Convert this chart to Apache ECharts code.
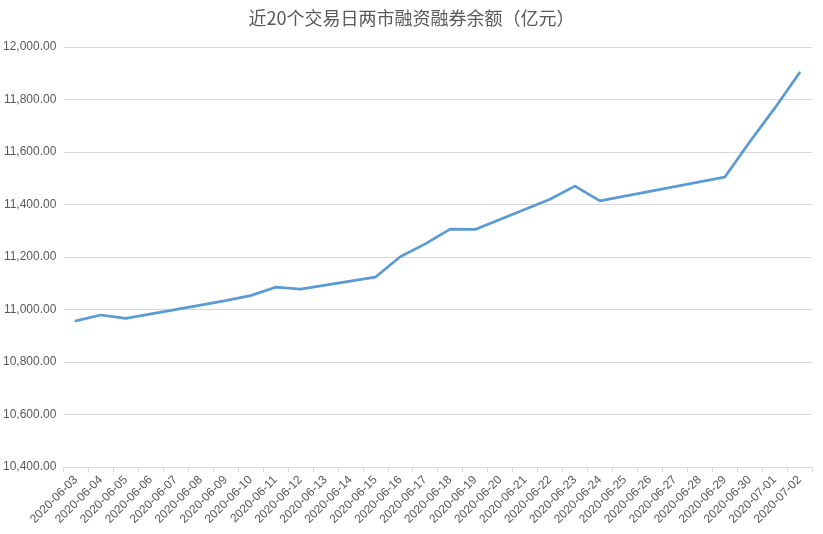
<!DOCTYPE html>
<html>
<head>
<meta charset="utf-8">
<script src="https://cdn.jsdelivr.net/npm/echarts@6/dist/echarts.min.js"></script>
<style>html,body{margin:0;padding:0;background:#fff}#c{width:823px;height:534px}</style>
</head>
<body>
<div id="c"></div>
<script>
const titleText = '近20个交易日两市融资融券余额（亿元）';
const dates = ['2020-06-03','2020-06-04','2020-06-05','2020-06-06','2020-06-07','2020-06-08','2020-06-09','2020-06-10','2020-06-11','2020-06-12','2020-06-13','2020-06-14','2020-06-15','2020-06-16','2020-06-17','2020-06-18','2020-06-19','2020-06-20','2020-06-21','2020-06-22','2020-06-23','2020-06-24','2020-06-25','2020-06-26','2020-06-27','2020-06-28','2020-06-29','2020-06-30','2020-07-01','2020-07-02'];
// null = non-trading day (weekend / holiday); line connects trading days
const balance = [10957,10979,10966,null,null,11017,11034,11053,11085,11078,null,null,11123,11201,11250,11306,11305,null,null,11420,11470,11414,null,null,null,null,11504,11638,11766,11902];
const yMin = 10400, yMax = 12000, yStep = 200;

const chart = echarts.init(document.getElementById('c'));
chart.setOption({
  backgroundColor: '#fff',
  animation: false,
  title: {
    text: titleText,
    left: 'center',
    top: 4,
    textStyle: {fontFamily: 'Noto Sans CJK SC', fontSize: 18, fontWeight: 'normal', color: '#595959'}
  },
  grid: {left: 62, right: 11, top: 47, bottom: 67, containLabel: false},
  xAxis: {
    type: 'category',
    data: dates,
    boundaryGap: true,
    axisLine: {show: true, lineStyle: {color: '#d9d9d9', width: 1}},
    axisTick: {show: true, length: 5, lineStyle: {color: '#d9d9d9'}},
    axisLabel: {rotate: 45, interval: 0, margin: 11, fontFamily: 'Liberation Sans', fontSize: 12, color: '#595959'}
  },
  yAxis: {
    type: 'value',
    min: yMin, max: yMax, interval: yStep,
    axisLine: {show: false},
    axisTick: {show: false},
    splitLine: {lineStyle: {color: '#d9d9d9', width: 1}},
    axisLabel: {
      margin: 7, fontFamily: 'Liberation Sans', fontSize: 12, color: '#595959',
      formatter: v => v.toLocaleString('en-US', {minimumFractionDigits: 2, maximumFractionDigits: 2})
    }
  },
  series: [{
    type: 'line',
    data: balance,
    connectNulls: true,
    showSymbol: false,
    symbol: 'none',
    lineStyle: {color: '#5b9bd5', width: 2.75, cap: 'round', join: 'round'},
    itemStyle: {color: '#5b9bd5'}
  }]
});
</script>
</body>
</html>
